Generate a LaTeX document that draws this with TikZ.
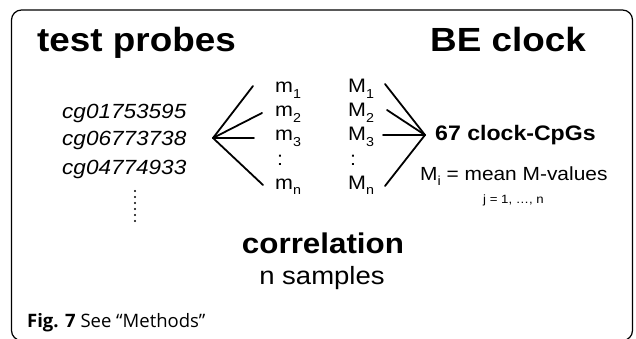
\documentclass[tikz,border=0pt]{standalone}
\usepackage{fontspec}
\setmainfont{Liberation Sans}[FakeStretch=1.1]
\newfontfamily\capfont{Open Sans}
\newcommand\lowsub[1]{\raisebox{-0.28em}{\fontsize{13}{13}\selectfont #1}}
\tikzset{
  lbl/.style={inner sep=0pt, anchor=base west},
  ctr/.style={inner sep=0pt, anchor=base},
  link/.style={line width=1.8pt, line cap=round},
  head/.style={font=\fontsize{33.5}{33.5}\selectfont\bfseries},
  probe/.style={font=\fontsize{20.5}{20.5}\selectfont\itshape},
  val/.style={font=\fontsize{19.5}{19.5}\selectfont},
}
\begin{document}
\begin{tikzpicture}[x=1pt, y=-1pt]
\useasboundingbox (0,0) rectangle (636,339);
% frame
\draw[line width=1.2pt, rounded corners=10pt] (11.5,10) rectangle (632.5,340.5);

% headings
\node[lbl, head] (tp) at (37,52) {test probes};
\node[lbl, head] (be) at (430,52) {BE clock};

% probe ids
\node[lbl, probe] (cg1) at (62,119) {cg01753595};
\node[lbl, probe] (cg2) at (62,146) {cg06773738};
\node[lbl, probe] (cg3) at (62,174) {cg04774933};
\foreach \k in {0,...,5} \fill (135,191+6*\k) circle (1.1);

% per-sample values
\node[lbl, val] (m1) at (275,93)  {m\lowsub{1}};
\node[lbl, val] (m2) at (275,117) {m\lowsub{2}};
\node[lbl, val] (m3) at (275,141) {m\lowsub{3}};
\node[lbl, val] (mc) at (277,165) {:};
\node[lbl, val] (mn) at (275,189) {m\lowsub{n}};
\node[lbl, val] (M1) at (348,93)  {M\lowsub{1}};
\node[lbl, val] (M2) at (348,117) {M\lowsub{2}};
\node[lbl, val] (M3) at (348,141) {M\lowsub{3}};
\node[lbl, val] (Mc) at (350,165) {:};
\node[lbl, val] (Mn) at (348,189) {M\lowsub{n}};

% fan-out hubs and line ends
\coordinate (hl) at (213,138);
\coordinate (hr) at (425,135);
\coordinate (a1) at (253,86);
\coordinate (a2) at (262,113);
\coordinate (a3) at (254,138);
\coordinate (an) at (263,185);
\coordinate (b1) at (385,84);
\coordinate (b2) at (387,110);
\coordinate (b3) at (383,135);
\coordinate (bn) at (385,186);
\foreach \e in {a1,a2,a3,an} \draw[link] (hl) -- (\e);
\foreach \e in {b1,b2,b3,bn} \draw[link] (\e) -- (hr);

% clock side
\node[lbl, font=\fontsize{21}{21}\selectfont\bfseries] (cpg) at (435,141) {67 clock-CpGs};
\node[lbl, font=\fontsize{19}{19}\selectfont] (mv) at (420,180) {M\lowsub{i} = mean M-values};
\node[lbl, font=\fontsize{12}{12}\selectfont] (jr) at (483,203) {j = 1, …, n};

% bottom
\node[ctr, font=\fontsize{28.5}{28.5}\selectfont\bfseries] (corr) at (323,253) {correlation};
\node[ctr, font=\fontsize{25}{25}\selectfont] (ns) at (322,284) {n samples};
\node[lbl, font=\capfont\fontsize{18.5}{18.5}\selectfont] (cap) at (27,327) {\textbf{Fig. 7} See “Methods”};
\end{tikzpicture}
\end{document}
